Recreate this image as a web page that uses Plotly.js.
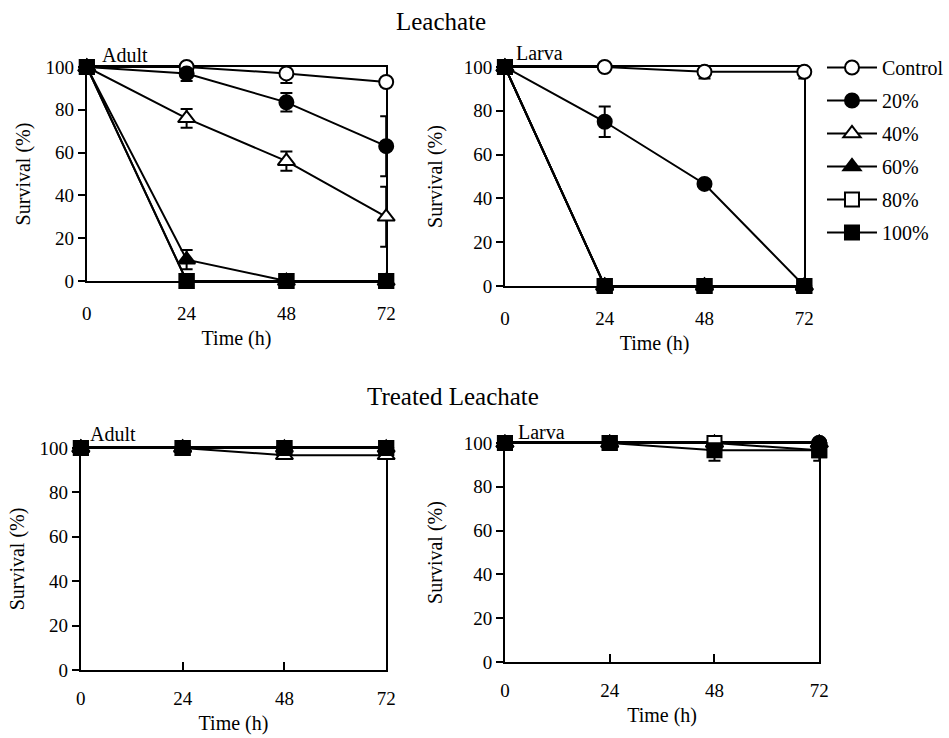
<!DOCTYPE html>
<html>
<head>
<meta charset="utf-8">
<script src="https://cdn.plot.ly/plotly-3.0.1.min.js"></script>
<style>html,body{margin:0;padding:0;background:#fff;}#chart{width:949px;height:738px;}</style>
</head>
<body>
<div id="chart"></div>
<script>
// ---------- data ----------
const times = [0, 24, 48, 72];
const seriesNames = ['Control', '20%', '40%', '60%', '80%', '100%'];

// Leachate – Adult
const leachAdultControl = [100, 100, 97, 93];
const leachAdultControlErr = [0, 2, 4.5, 2];
const leachAdult20 = [100, 97, 83.5, 63];
const leachAdult20Err = [0, 3.5, 4.3, 14];
const leachAdult40 = [100, 76, 56, 30];
const leachAdult40Err = [0, 4.4, 4.5, 14];
const leachAdult60 = [100, 10, 0, 0];
const leachAdult60Err = [0, 4.5, 0, 0];
const leachAdult80 = [100, 0, 0, 0];
const leachAdult100 = [100, 0, 0, 0];

// Leachate – Larva
const leachLarvaControl = [100, 100, 97.8, 97.8];
const leachLarvaControlErr = [0, 0, 3, 3];
const leachLarva20 = [100, 75, 46.6, 0];
const leachLarva20Err = [0, 7, 0, 0];
const leachLarva40 = [100, 0, 0, 0];
const leachLarva60 = [100, 0, 0, 0];
const leachLarva80 = [100, 0, 0, 0];
const leachLarva100 = [100, 0, 0, 0];

// Treated leachate – Adult
const treatAdultControl = [100, 100, 100, 100];
const treatAdult20 = [100, 100, 100, 100];
const treatAdult40 = [100, 100, 96.7, 96.7];
const treatAdult60 = [100, 100, 100, 100];
const treatAdult80 = [100, 100, 100, 100];
const treatAdult100 = [100, 100, 100, 100];

// Treated leachate – Larva
const treatLarvaControl = [100, 100, 100, 100];
const treatLarva20 = [100, 100, 100, 100];
const treatLarva40 = [100, 100, 100, 100];
const treatLarva60 = [100, 100, 100, 100];
const treatLarva80 = [100, 100, 100, 96.7];
const treatLarva100 = [100, 100, 96.7, 96.7];
const treatLarva100Err = [0, 0, 4.8, 4.8];

const xTickVals = [0, 24, 48, 72];
const yTickVals = [0, 20, 40, 60, 80, 100];

// ---------- styling ----------
const FONT = 'Liberation Serif';
const markerStyles = [
  {symbol: 'circle', color: 'white', size: 14},
  {symbol: 'circle', color: 'black', size: 14},
  {symbol: 'triangle-up', color: 'white', size: 15},
  {symbol: 'triangle-up', color: 'black', size: 15},
  {symbol: 'square', color: 'white', size: 14},
  {symbol: 'square', color: 'black', size: 14}
];

function mk(idx, y, err, xa, ya, showleg) {
  const s = markerStyles[idx];
  const t = {
    type: 'scatter', mode: 'lines+markers', x: times, y: y,
    xaxis: xa, yaxis: ya, name: seriesNames[idx], legendgroup: 'g' + idx,
    showlegend: !!showleg, cliponaxis: false,
    line: {color: 'black', width: 2},
    marker: {symbol: s.symbol, size: s.size, color: s.color, line: {color: 'black', width: 2}}
  };
  if (err) t.error_y = {type: 'data', array: err, visible: true, color: 'black', thickness: 2, width: 6};
  return t;
}

const data = [
  mk(0, leachAdultControl, leachAdultControlErr, 'x', 'y'),
  mk(1, leachAdult20, leachAdult20Err, 'x', 'y'),
  mk(2, leachAdult40, leachAdult40Err, 'x', 'y'),
  mk(3, leachAdult60, leachAdult60Err, 'x', 'y'),
  mk(4, leachAdult80, null, 'x', 'y'),
  mk(5, leachAdult100, null, 'x', 'y'),

  mk(0, leachLarvaControl, leachLarvaControlErr, 'x2', 'y2', true),
  mk(1, leachLarva20, leachLarva20Err, 'x2', 'y2', true),
  mk(2, leachLarva40, null, 'x2', 'y2', true),
  mk(3, leachLarva60, null, 'x2', 'y2', true),
  mk(4, leachLarva80, null, 'x2', 'y2', true),
  mk(5, leachLarva100, null, 'x2', 'y2', true),

  mk(0, treatAdultControl, null, 'x3', 'y3'),
  mk(1, treatAdult20, null, 'x3', 'y3'),
  mk(2, treatAdult40, null, 'x3', 'y3'),
  mk(3, treatAdult60, null, 'x3', 'y3'),
  mk(4, treatAdult80, null, 'x3', 'y3'),
  mk(5, treatAdult100, null, 'x3', 'y3'),

  mk(0, treatLarvaControl, null, 'x4', 'y4'),
  mk(1, treatLarva20, null, 'x4', 'y4'),
  mk(2, treatLarva40, null, 'x4', 'y4'),
  mk(3, treatLarva60, null, 'x4', 'y4'),
  mk(4, treatLarva80, null, 'x4', 'y4'),
  mk(5, treatLarva100, treatLarva100Err, 'x4', 'y4')
];

function xax(domain, anchor, standoffLbl, standoffTitle) {
  return {
    domain: domain, anchor: anchor, range: [0, 72], tickvals: xTickVals,
    ticks: 'inside', ticklen: 8, tickwidth: 2, tickcolor: 'black',
    showline: true, mirror: true, linewidth: 2, linecolor: 'black',
    showgrid: false, zeroline: false, layer: 'below traces',
    tickfont: {family: FONT, size: 19, color: 'black'},
    ticklabelstandoff: standoffLbl,
    title: {text: 'Time (h)', font: {family: FONT, size: 20, color: 'black'}, standoff: standoffTitle},
    fixedrange: true
  };
}
function yax(domain, anchor, standoffTitle) {
  return {
    domain: domain, anchor: anchor, range: [0, 100], tickvals: yTickVals,
    ticks: 'outside', ticklen: 7, tickwidth: 2, tickcolor: 'black',
    showline: true, mirror: true, linewidth: 2, linecolor: 'black',
    showgrid: false, zeroline: false, layer: 'below traces',
    tickfont: {family: FONT, size: 19, color: 'black'},
    title: {text: 'Survival (%)', font: {family: FONT, size: 20, color: 'black'}, standoff: standoffTitle},
    fixedrange: true
  };
}

const layout = {
  width: 949, height: 738,
  margin: {l: 0, r: 0, t: 0, b: 0},
  paper_bgcolor: 'white', plot_bgcolor: 'white',
  font: {family: FONT, color: 'black'},
  showlegend: true,
  legend: {
    x: 0.868, y: 0.935, xanchor: 'left', yanchor: 'top',
    font: {family: FONT, size: 20, color: 'black'},
    bgcolor: 'rgba(0,0,0,0)', borderwidth: 0, itemwidth: 50,
    tracegroupgap: 4
  },
  xaxis: xax([0.0917, 0.4078], 'y', 14, 8),
  yaxis: yax([0.6192, 0.9092], 'x', 10),
  xaxis2: xax([0.5332, 0.8493], 'y2', 14, 8),
  yaxis2: yax([0.6125, 0.9092], 'x2', 16),
  xaxis3: xax([0.0854, 0.4078], 'y3', 10, 8),
  yaxis3: yax([0.0921, 0.3930], 'x3', 10),
  xaxis4: xax([0.5332, 0.8651], 'y4', 10, 8),
  yaxis4: yax([0.1030, 0.3997], 'x4', 16),
  annotations: [
    {text: 'Leachate', x: 0.4652, y: 0.9715, xref: 'paper', yref: 'paper', xanchor: 'center', yanchor: 'middle', showarrow: false, font: {family: FONT, size: 25, color: 'black'}},
    {text: 'Treated Leachate', x: 0.4784, y: 0.4634, xref: 'paper', yref: 'paper', xanchor: 'center', yanchor: 'middle', showarrow: false, font: {family: FONT, size: 25, color: 'black'}},
    {text: 'Adult', x: 0.1054, y: 0.9255, xref: 'paper', yref: 'paper', xanchor: 'left', yanchor: 'middle', showarrow: false, font: {family: FONT, size: 20, color: 'black'}},
    {text: 'Larva', x: 0.5427, y: 0.9282, xref: 'paper', yref: 'paper', xanchor: 'left', yanchor: 'middle', showarrow: false, font: {family: FONT, size: 20, color: 'black'}},
    {text: 'Adult', x: 0.0927, y: 0.4119, xref: 'paper', yref: 'paper', xanchor: 'left', yanchor: 'middle', showarrow: false, font: {family: FONT, size: 20, color: 'black'}},
    {text: 'Larva', x: 0.5448, y: 0.4146, xref: 'paper', yref: 'paper', xanchor: 'left', yanchor: 'middle', showarrow: false, font: {family: FONT, size: 20, color: 'black'}}
  ]
};

Plotly.newPlot('chart', data, layout, {displayModeBar: false, staticPlot: true});
</script>
</body>
</html>
